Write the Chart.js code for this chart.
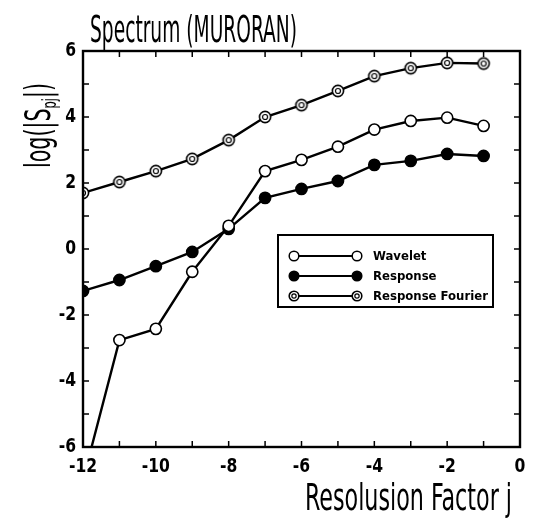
<!DOCTYPE html>
<html>
<head>
<meta charset="utf-8">
<script src="https://cdn.jsdelivr.net/npm/chart.js@4.4.1/dist/chart.umd.min.js"></script>
<style>
  html, body { margin: 0; padding: 0; background: #fff; }
  #wrap { width: 533px; height: 522px; }
</style>
</head>
<body>
<div id="wrap"><canvas id="spectrumChart" width="533" height="522"></canvas></div>
<script>
const resolution = [-12, -11, -10, -9, -8, -7, -6, -5, -4, -3, -2, -1];
const wavelet = [-7.0, -2.76, -2.42, -0.69, 0.70, 2.36, 2.70, 3.10, 3.62, 3.88, 3.98, 3.73];
const response = [-1.27, -0.94, -0.52, -0.09, 0.61, 1.55, 1.82, 2.06, 2.55, 2.67, 2.88, 2.82];
const responseFourier = [1.70, 2.03, 2.36, 2.73, 3.30, 4.00, 4.36, 4.79, 5.24, 5.48, 5.64, 5.62];
const seriesNames = ['Wavelet', 'Response', 'Response Fourier'];
const xTicks = [-12, -10, -8, -6, -4, -2, 0];
const yTicks = [-6, -4, -2, 0, 2, 4, 6];

const NARROW = "'Liberation Sans Narrow', 'DejaVu Sans Condensed', 'Arial Narrow', sans-serif";
const TICK_FONT = "bold 19px 'DejaVu Sans', sans-serif";
const TICK_SQUEEZE = 0.82;

// double ring marker used by the Fourier series
function makeRing(size, r) {
  const c = document.createElement('canvas');
  c.width = size;
  c.height = size;
  const g = c.getContext('2d');
  const m = size / 2;
  g.lineWidth = 1.6;
  g.strokeStyle = '#000';
  g.fillStyle = '#fff';
  g.beginPath();
  g.arc(m, m, r, 0, Math.PI * 2);
  g.fill();
  g.stroke();
  g.lineWidth = 1.2;
  g.beginPath();
  g.arc(m, m, r * 0.45, 0, Math.PI * 2);
  g.stroke();
  return c;
}

const ring = makeRing(16, 5.6);
const ringSmall = makeRing(14, 4.8);

function makeDataset(label, values, fill, style) {
  return {
    label,
    data: resolution.map((x, i) => ({ x, y: values[i] })),
    borderColor: '#000',
    borderWidth: 2.4,
    pointRadius: 5.6,
    pointBorderWidth: 1.6,
    pointBorderColor: '#000',
    pointBackgroundColor: fill,
    pointStyle: style,
    tension: 0
  };
}

function drawFitted(ctx, text, x, y, font, width) {
  ctx.save();
  ctx.font = font;
  const w = ctx.measureText(text).width;
  ctx.translate(x, y);
  ctx.scale(width / w, 1);
  ctx.fillText(text, 0, 0);
  ctx.restore();
}

// narrow tick label: align is 'center' or 'right'
function drawTickLabel(ctx, text, x, y, align) {
  ctx.save();
  ctx.font = TICK_FONT;
  const w = ctx.measureText(text).width * TICK_SQUEEZE;
  const left = align === 'right' ? x - w : x - w / 2;
  ctx.translate(left, y);
  ctx.scale(TICK_SQUEEZE, 1);
  ctx.textAlign = 'left';
  ctx.fillText(text, 0, 0);
  ctx.restore();
}

const framePlugin = {
  id: 'frame',
  afterDraw(chart) {
    const { ctx, chartArea: a, scales } = chart;
    ctx.save();
    ctx.strokeStyle = '#000';
    ctx.lineWidth = 1.5;
    ctx.beginPath();
    for (let v = -12; v <= 0; v++) {
      const px = scales.x.getPixelForValue(v);
      ctx.moveTo(px, a.bottom);
      ctx.lineTo(px, a.bottom - 6);
      ctx.moveTo(px, a.top);
      ctx.lineTo(px, a.top + 6);
    }
    for (let v = -6; v <= 6; v++) {
      const py = scales.y.getPixelForValue(v);
      ctx.moveTo(a.left, py);
      ctx.lineTo(a.left + 6, py);
      ctx.moveTo(a.right, py);
      ctx.lineTo(a.right - 6, py);
    }
    ctx.stroke();
    ctx.lineWidth = 2.4;
    ctx.strokeRect(a.left, a.top, a.right - a.left, a.bottom - a.top);

    ctx.fillStyle = '#000';
    ctx.textBaseline = 'alphabetic';
    scales.x.ticks.forEach(t => {
      drawTickLabel(ctx, String(t.value), scales.x.getPixelForValue(t.value), a.bottom + 25, 'center');
    });
    scales.y.ticks.forEach(t => {
      drawTickLabel(ctx, String(t.value), a.left - 7, scales.y.getPixelForValue(t.value) + 5, 'right');
    });
    ctx.restore();
  }
};

const textPlugin = {
  id: 'texts',
  afterDraw(chart) {
    const { ctx } = chart;
    ctx.save();
    ctx.fillStyle = '#000';
    ctx.textBaseline = 'alphabetic';
    ctx.textAlign = 'left';
    drawFitted(ctx, 'Spectrum (MURORAN)', 90, 42, `38px ${NARROW}`, 207);
    drawFitted(ctx, 'Resolusion Factor j', 305, 510, `38px ${NARROW}`, 207);

    // rotated y title with subscript
    ctx.translate(50, 168);
    ctx.rotate(-Math.PI / 2);
    const parts = [
      { t: 'log(|S', f: `36px ${NARROW}`, dy: 0 },
      { t: 'pj', f: `20px ${NARROW}`, dy: 6 },
      { t: '|)', f: `36px ${NARROW}`, dy: 0 }
    ];
    let total = 0;
    parts.forEach(p => { ctx.font = p.f; p.w = ctx.measureText(p.t).width; total += p.w; });
    ctx.scale(85 / total, 1);
    let x = 0;
    parts.forEach(p => {
      ctx.font = p.f;
      ctx.fillText(p.t, x, p.dy);
      x += p.w;
    });
    ctx.restore();
  }
};

const legendPlugin = {
  id: 'boxLegend',
  afterDraw(chart) {
    const { ctx } = chart;
    const box = { x: 278, y: 235, w: 215, h: 72 };
    ctx.save();
    ctx.fillStyle = '#fff';
    ctx.fillRect(box.x, box.y, box.w, box.h);
    ctx.strokeStyle = '#000';
    ctx.lineWidth = 2;
    ctx.strokeRect(box.x, box.y, box.w, box.h);

    chart.data.datasets.forEach((ds, i) => {
      const y = box.y + 21 + i * 20;
      const x1 = box.x + 16;
      const x2 = box.x + 79;
      ctx.strokeStyle = '#000';
      ctx.lineWidth = 2;
      ctx.beginPath();
      ctx.moveTo(x1, y);
      ctx.lineTo(x2, y);
      ctx.stroke();
      [x1, x2].forEach(cx => {
        if (ds.pointStyle === 'circle') {
          ctx.beginPath();
          ctx.arc(cx, y, 4.8, 0, Math.PI * 2);
          ctx.fillStyle = ds.pointBackgroundColor;
          ctx.fill();
          ctx.lineWidth = 1.5;
          ctx.stroke();
        } else {
          ctx.drawImage(ringSmall, cx - 7, y - 7);
        }
      });
      ctx.fillStyle = '#000';
      ctx.font = `bold 13px ${NARROW}`;
      ctx.textBaseline = 'middle';
      ctx.fillText(ds.label, box.x + 95, y + 1);
    });
    ctx.restore();
  }
};

new Chart(document.getElementById('spectrumChart').getContext('2d'), {
  type: 'line',
  data: {
    datasets: [
      makeDataset(seriesNames[0], wavelet, '#fff', 'circle'),
      makeDataset(seriesNames[1], response, '#000', 'circle'),
      makeDataset(seriesNames[2], responseFourier, '#fff', ring)
    ]
  },
  options: {
    responsive: false,
    animation: false,
    layout: { padding: { top: 51, right: 13, left: 0, bottom: 0 } },
    plugins: {
      legend: { display: false },
      tooltip: { enabled: false },
      title: { display: false }
    },
    scales: {
      x: {
        type: 'linear',
        min: -12,
        max: 0,
        afterBuildTicks(scale) { scale.ticks = xTicks.map(value => ({ value })); },
        afterFit(scale) { scale.height = 75; },
        grid: { display: false },
        border: { display: false },
        ticks: { display: false }
      },
      y: {
        type: 'linear',
        min: -6,
        max: 6,
        afterBuildTicks(scale) { scale.ticks = yTicks.map(value => ({ value })); },
        afterFit(scale) { scale.width = 83; },
        grid: { display: false },
        border: { display: false },
        ticks: { display: false }
      }
    }
  },
  plugins: [framePlugin, textPlugin, legendPlugin]
});
</script>
</body>
</html>
